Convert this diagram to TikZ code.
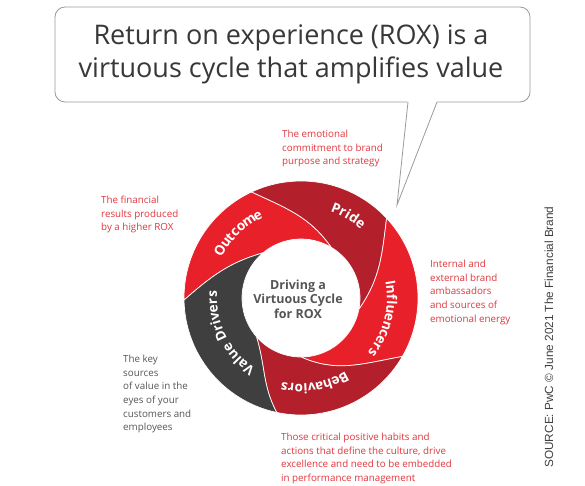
\documentclass[tikz,border=0pt]{standalone}
\usepackage{fontspec}
\setmainfont{Open Sans}
\newfontfamily\srcfont{Liberation Sans}
\usetikzlibrary{decorations.text}
\definecolor{bred}{HTML}{E8202A}
\definecolor{dred}{HTML}{B31F2A}
\definecolor{dgray}{HTML}{3F3F3F}
\definecolor{lred}{HTML}{E0353C}
\definecolor{tgray}{HTML}{555555}
\definecolor{bgray}{HTML}{9A9A9A}
\newcommand\Ro{117}
\newcommand\Ri{59}
\newcommand\ringseg[6]{%
  \pgfmathsetmacro\oa{#4-140}\pgfmathsetmacro\ia{#5+66}%
  \pgfmathsetmacro\ob{#3+66}\pgfmathsetmacro\ib{#2-140}%
  \filldraw[fill=#1, draw=white, line width=0.7pt] (#2:\Ro)
    arc[start angle=#2, end angle=#4, radius=\Ro]
    to[out=\oa, in=\ia] (#5:\Ri)
    arc[start angle=#5, end angle=#3, radius=\Ri]
    to[out=\ob, in=\ib] (#2:\Ro) -- cycle;
  \coordinate (#6) at (0,0);}
\newcommand\ringlabel[3]{%
  \pgfmathsetmacro\sa{#1+50}\pgfmathsetmacro\ea{#1-50}%
  \path[decorate, decoration={text effects along path, text={#3}, text align=center,
     text effects/.cd, text along path,
     characters={text=white, font=\fontsize{13.6}{15}\selectfont\bfseries, inner sep=0pt},
     character widths={inner xsep=1.1pt}}]
     (\sa:#2) arc[start angle=\sa, end angle=\ea, radius=#2];}
\tikzset{
  desc/.style={anchor=north west, align=left, inner sep=0pt, text=lred,
    font=\fontsize{9.8}{13.6}\selectfont},
  descg/.style={desc, text=tgray},
  bubble/.style={draw=bgray, line width=0.8pt, fill=white},
}
\begin{document}
\begin{tikzpicture}[x=1pt,y=1pt]
\useasboundingbox (0,0) rectangle (585,485);
% speech bubble
\filldraw[bubble, rounded corners=10pt] (55,383) rectangle (530,478);
\fill[white] (407.5,384.2) -- (437.5,384.2) -- (397,280) -- cycle;
\coordinate (tailL) at (408,383);
\coordinate (tailR) at (437,383);
\coordinate (tip) at (397,280);
\draw[draw=bgray, line width=0.8pt, line join=miter] (tailL) -- (tip) -- (tailR);
\node[align=center, text=black!78, font=\fontsize{27}{33}\selectfont] (title) at (291,431)
  {Return on experience (ROX) is a\\virtuous cycle that amplifies value};
% ring
\begin{scope}[shift={(301,187)}]
\ringseg{bred}{181}{130}{115}{59}{sOutcome}
\ringseg{dred}{115}{59}{43}{-11}{sPride}
\ringseg{bred}{43}{-11}{-30}{-90}{sInfl}
\ringseg{dred}{-30}{-90}{-102}{-139}{sBeh}
\ringseg{dgray}{-102}{-139}{-179}{-230}{sVal}
\ringlabel{134}{89}{Outcome}
\ringlabel{60}{91}{Pride}
\ringlabel{-14}{86}{Influencers}
\ringlabel{-81}{86}{Behaviors}
\ringlabel{206}{84}{Value Drivers}
\node[align=center, text=tgray, font=\fontsize{12.5}{14.5}\selectfont\bfseries] (center) at (-3,-1)
  {Driving a\\Virtuous Cycle\\for ROX};
\end{scope}
% descriptions
\node[desc] (dOutcome) at (101,289) {The financial\\results produced\\by a higher ROX};
\node[desc] (dPride) at (282,355) {The emotional\\commitment to brand\\purpose and strategy};
\node[desc] (dInfl) at (430,225) {Internal and\\external brand\\ambassadors\\and sources of\\emotional energy};
\node[descg] (dVal) at (123,130) {The key\\sources\\of value in the\\eyes of your\\customers and\\employees};
\node[desc] (dBeh) at (281,52) {Those critical positive habits and\\actions that define the culture, drive\\excellence and need to be embedded\\in performance management};
% source
\node[rotate=90, text=black!75, font=\srcfont\fontsize{11.8}{14}\selectfont] (src) at (549,148)
  {SOURCE: PwC \textcopyright{} June 2021 The Financial Brand};
\end{tikzpicture}
\end{document}
